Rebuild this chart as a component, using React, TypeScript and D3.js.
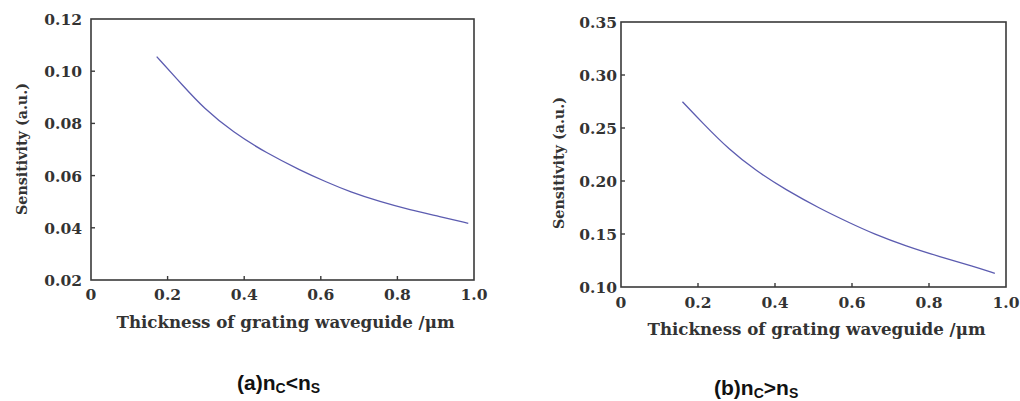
import React from "react";
import * as d3 from "d3";

const xTicks = [0, 0.2, 0.4, 0.6, 0.8, 1.0];
const xTickLabels = ["0", "0.2", "0.4", "0.6", "0.8", "1.0"];

const yTicksA = [0.02, 0.04, 0.06, 0.08, 0.1, 0.12];
const yTickLabelsA = ["0.02", "0.04", "0.06", "0.08", "0.10", "0.12"];
const thicknessA = [0.1715, 0.241, 0.293, 0.3715, 0.4587, 0.5457, 0.615, 0.676, 0.7546, 0.833, 0.911, 0.985];
const sensitivityA = [0.1056, 0.0943, 0.0860, 0.0765, 0.0686, 0.0621, 0.0575, 0.0538, 0.05, 0.0469, 0.0443, 0.0417];

const yTicksB = [0.1, 0.15, 0.2, 0.25, 0.3, 0.35];
const yTickLabelsB = ["0.10", "0.15", "0.20", "0.25", "0.30", "0.35"];
const thicknessB = [0.1596, 0.2117, 0.281, 0.351, 0.429, 0.5156, 0.594, 0.654, 0.741, 0.828, 0.915, 0.971];
const sensitivityB = [0.2748, 0.2548, 0.2295, 0.2095, 0.1915, 0.1742, 0.1605, 0.1505, 0.1385, 0.1286, 0.1195, 0.1129];

const xTitle = "Thickness of grating waveguide /\u03bcm";
const yTitle = "Sensitivity (a.u.)";

const serif = "'DejaVu Serif', 'Liberation Serif', serif";
const lineColor = "#5c5cb0";
const axisColor = "#3a3a3a";
const textColor = "#333";

type PanelProps = {
  left: number; right: number; top: number; bottom: number;
  yDomain: [number, number]; yTicks: number[]; yLabels: string[];
  xs: number[]; ys: number[]; yTitleX: number; yTitleY: number; xTitleY: number;
  yLabelGap: number; xLabelY: number;
};

function Panel(p: PanelProps) {
  const x = d3.scaleLinear().domain([0, 1]).range([p.left, p.right]);
  const y = d3.scaleLinear().domain(p.yDomain).range([p.bottom, p.top]);
  const line = d3.line<number>()
    .x((_, i) => x(p.xs[i]))
    .y((d) => y(d))
    .curve(d3.curveBasis);
  return (
    <g>
      <rect x={p.left} y={p.top} width={p.right - p.left} height={p.bottom - p.top}
        fill="none" stroke={axisColor} strokeWidth={1.6} />
      {xTicks.map((t, i) => (
        <g key={"x" + i}>
          {i > 0 && i < xTicks.length - 1 && (
            <line x1={x(t)} x2={x(t)} y1={p.bottom} y2={p.bottom - 4} stroke={axisColor} strokeWidth={1.4} />
          )}
          <text x={x(t)} y={p.xLabelY} textAnchor="middle" fontFamily={serif} fontSize={15.5}
            fill={textColor} fontWeight="bold">{xTickLabels[i]}</text>
        </g>
      ))}
      {p.yTicks.map((t, i) => (
        <g key={"y" + i}>
          {i > 0 && i < p.yTicks.length - 1 && (
            <line x1={p.left} x2={p.left + 4} y1={y(t)} y2={y(t)} stroke={axisColor} strokeWidth={1.4} />
          )}
          <text x={p.left - p.yLabelGap} y={y(t) + 6} textAnchor="end" fontFamily={serif} fontSize={15.5}
            fill={textColor} fontWeight="bold">{p.yLabels[i]}</text>
        </g>
      ))}
      <path d={line(p.ys) || ""} fill="none" stroke={lineColor} strokeWidth={1.3} />
      <text x={(p.left + p.right) / 2 + 3} y={p.xTitleY} textAnchor="middle" fontFamily={serif}
        fontSize={16} fill={textColor} fontWeight="bold" textLength={338}
        lengthAdjust="spacingAndGlyphs">{xTitle}</text>
      <text transform={`translate(${p.yTitleX},${p.yTitleY}) rotate(-90)`} textAnchor="middle"
        fontFamily={serif} fontSize={15} fill={textColor} fontWeight="bold" textLength={132}
        lengthAdjust="spacingAndGlyphs">{yTitle}</text>
    </g>
  );
}

const capFont = "'Liberation Sans', Arial, sans-serif";

export default function App() {
  return (
    <svg width={1020} height={401} style={{ position: "absolute", left: 0, top: 0, background: "#fff" }}>
      <Panel left={91} right={474} top={19} bottom={280} yDomain={[0.02, 0.12]} yTicks={yTicksA}
        yLabels={yTickLabelsA} xs={thicknessA} ys={sensitivityA} yTitleX={27} yTitleY={149} xTitleY={328}
        yLabelGap={9} xLabelY={300} />
      <Panel left={621} right={1006} top={22} bottom={287} yDomain={[0.1, 0.35]} yTicks={yTicksB}
        yLabels={yTickLabelsB} xs={thicknessB} ys={sensitivityB} yTitleX={564} yTitleY={163} xTitleY={335}
        yLabelGap={4} xLabelY={308} />
      <text x={237} y={390} fontFamily={capFont} fontSize={21} fontWeight="bold" fill="#111">
        (a)n<tspan fontSize={14} dy={3}>C</tspan><tspan dy={-3}>&lt;n</tspan><tspan fontSize={14} dy={3}>S</tspan>
      </text>
      <text x={714} y={395} fontFamily={capFont} fontSize={21} fontWeight="bold" fill="#111">
        (b)n<tspan fontSize={14} dy={3}>C</tspan><tspan dy={-3}>&gt;n</tspan><tspan fontSize={14} dy={3}>S</tspan>
      </text>
    </svg>
  );
}
